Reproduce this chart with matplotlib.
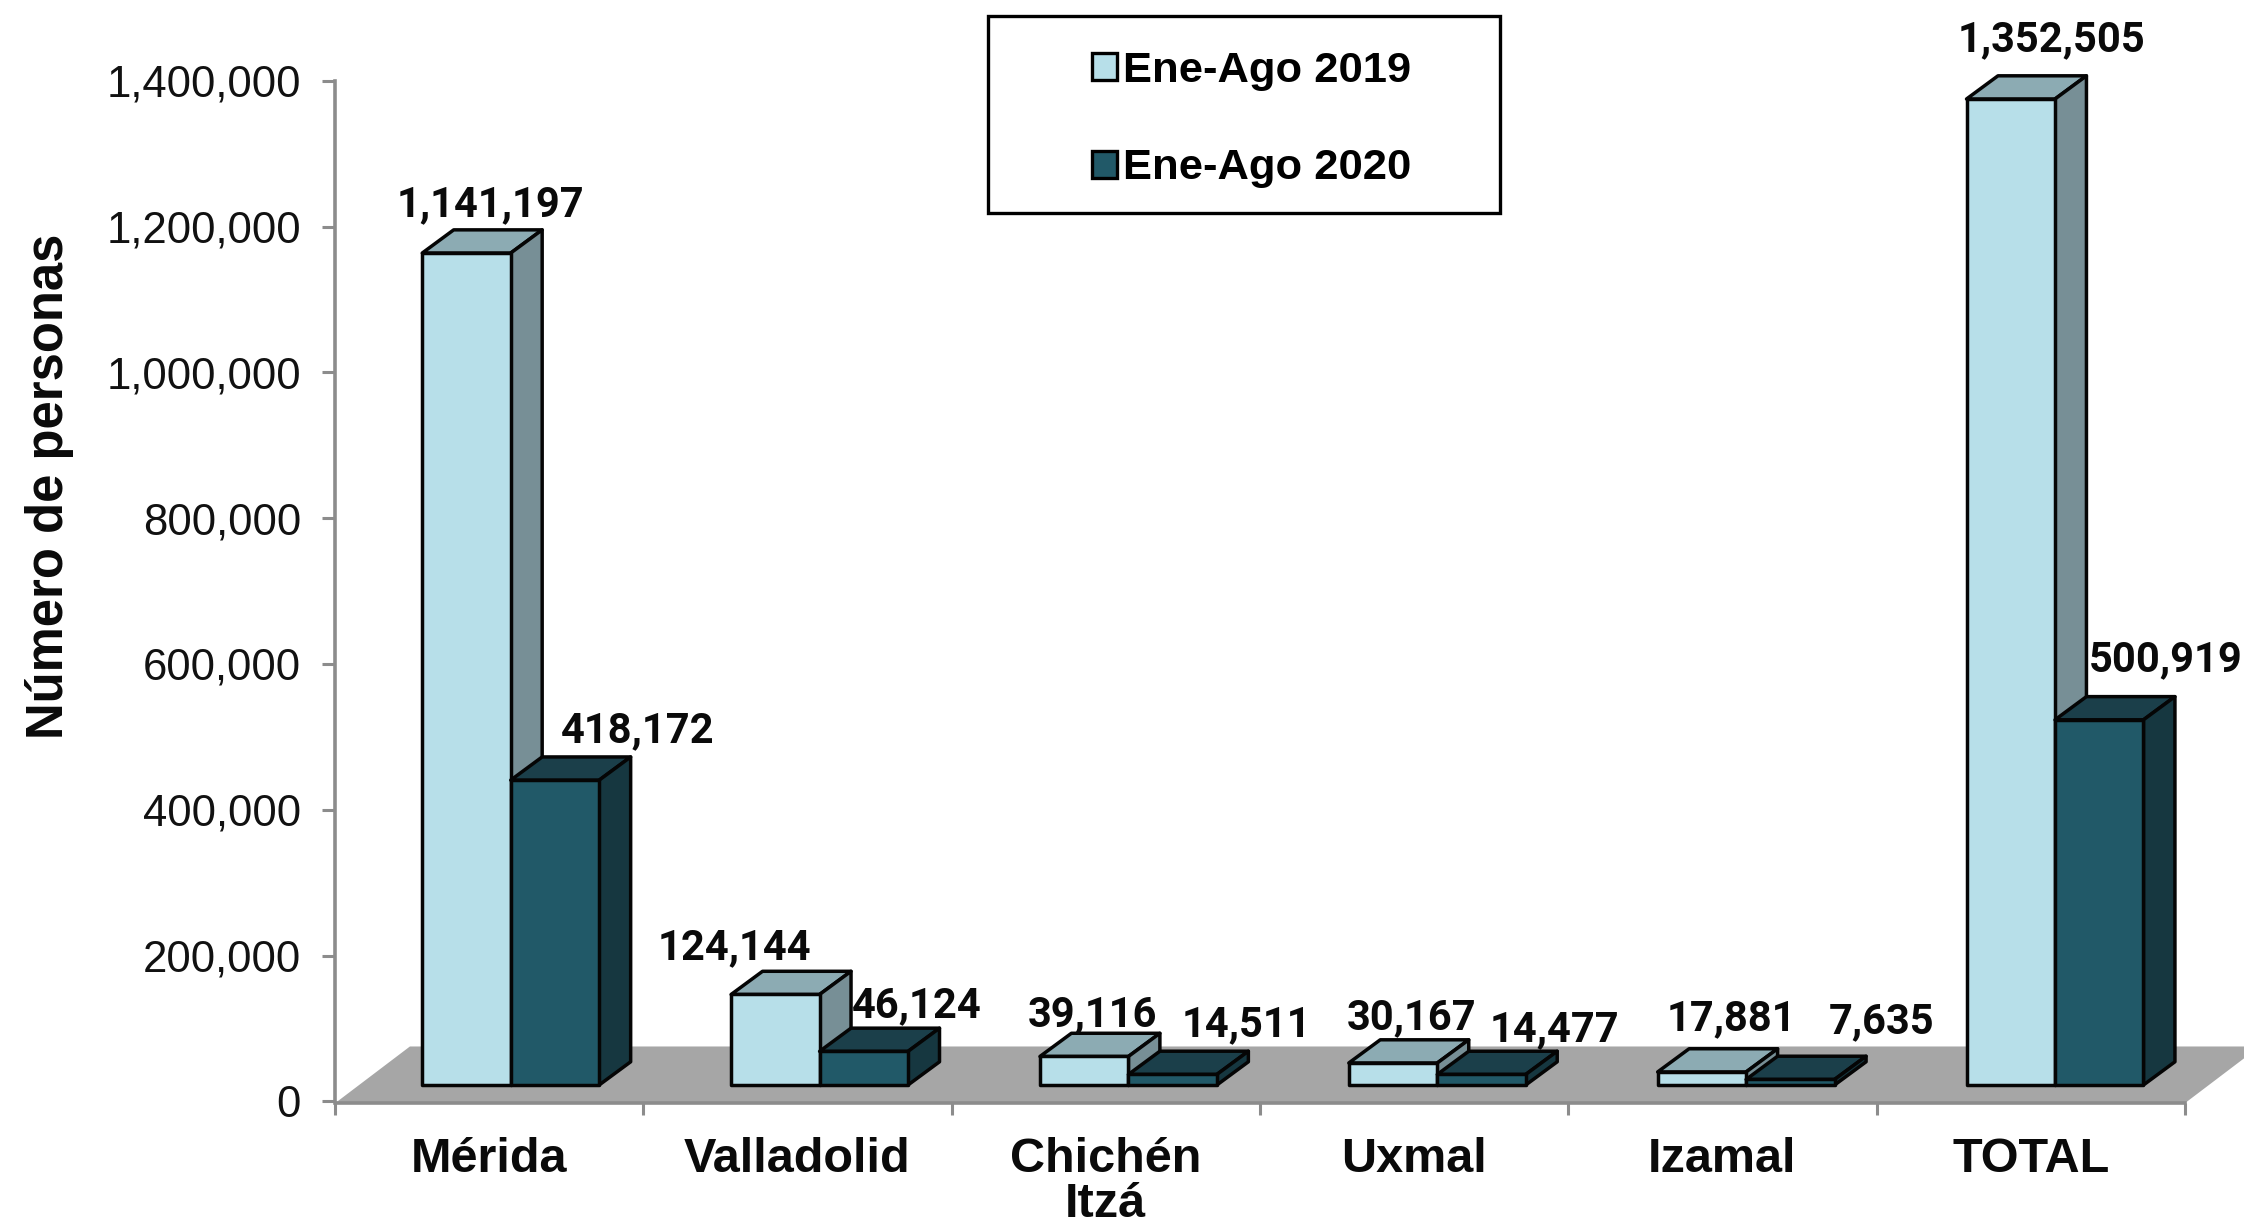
import matplotlib
matplotlib.use("Agg")
import matplotlib.pyplot as plt
from matplotlib.patches import Polygon, Patch, Rectangle
from matplotlib.ticker import FuncFormatter, FixedLocator

categories = ["Mérida", "Valladolid", "Chichén\nItzá", "Uxmal", "Izamal", "TOTAL"]
values_2019 = [1141197, 124144, 39116, 30167, 17881, 1352505]
values_2020 = [418172, 46124, 14511, 14477, 7635, 500919]
series_names = ["Ene-Ago 2019", "Ene-Ago 2020"]
y_ticks = [0, 200000, 400000, 600000, 800000, 1000000, 1200000, 1400000]

# label offsets from the top-centre of each bar front, in pixels
offsets_2019 = [(24, 48), (-41, 47), (8, 42), (19, 45), (30, 53), (41, 59)]
offsets_2020 = [(83, 49), (53, 46), (74, 50), (73, 45), (91, 58), (66, 60)]

W, H = 2244, 1227
fig = plt.figure(figsize=(W / 100, H / 100), dpi=100, facecolor="white")
x0, x1, y_top, y_bot = 335, 335 + 308.3 * 6, 80.7, 1101.3
ax = fig.add_axes([x0 / W, 1 - y_bot / H, (x1 - x0) / W, (y_bot - y_top) / H])
ax.set_xlim(0, 6)
ax.set_ylim(0, 1400000)
ax.patch.set_visible(False)

GREY = "#8C8C8C"
SANS = "Liberation Sans"
BAR_W = 0.287
SHIFT = 0.07
SPREAD = 0.0018
DX, DY = 0.102, 31800
BASE = 22400
EDGE = dict(edgecolor="#050505", linewidth=2.5, joinstyle="round", clip_on=False)
STYLE = [
    dict(front="#B7DFE9", top="#8CABB3", side="#778F96"),
    dict(front="#215968", top="#1B3F4A", side="#163740"),
]

# floor
F0, FX, FY = -2700, 0.243, 75200
ax.add_patch(Polygon([(0, F0), (6, F0), (6 + FX, FY), (FX, FY)], closed=True,
                     facecolor="#A6A6A6", edgecolor="none", clip_on=False, zorder=1))


def bar3d(left, value, st, z):
    xl, xr = left, left + BAR_W
    yb, yt = BASE, BASE + value
    ax.add_patch(Polygon([(xl, yt), (xr, yt), (xr + DX, yt + DY), (xl + DX, yt + DY)],
                         closed=True, facecolor=st["top"], zorder=z, **EDGE))
    ax.add_patch(Polygon([(xr, yb), (xr + DX, yb + DY), (xr + DX, yt + DY), (xr, yt)],
                         closed=True, facecolor=st["side"], zorder=z, **EDGE))
    ax.add_patch(Polygon([(xl, yb), (xr, yb), (xr, yt), (xl, yt)],
                         closed=True, facecolor=st["front"], zorder=z, **EDGE))


for i in range(len(categories)):
    mid = i + 0.5 + SHIFT + i * SPREAD
    for j, (vals, offs) in enumerate(((values_2019, offsets_2019), (values_2020, offsets_2020))):
        left = mid - BAR_W + j * BAR_W
        bar3d(left, vals[i], STYLE[j], 3 + j * 0.1 + i)
        ax.annotate(f"{vals[i]:,}", xy=(left + BAR_W / 2, BASE + vals[i]),
                    xytext=offs[i], textcoords="offset pixels", ha="center", va="center",
                    fontfamily="Roboto", fontweight="bold", fontsize=30, color="#0A0A0A",
                    annotation_clip=False, zorder=20)

# axes
for s in ("top", "right"):
    ax.spines[s].set_visible(False)
for s in ("left", "bottom"):
    ax.spines[s].set_color(GREY)
    ax.spines[s].set_linewidth(2.6)
    ax.spines[s].set_zorder(2)
ax.spines["bottom"].set_position(("outward", 1.5))

ax.yaxis.set_major_locator(FixedLocator(y_ticks))
ax.yaxis.set_major_formatter(FuncFormatter(lambda v, _: f"{int(v):,}"))
ax.tick_params(axis="y", length=9.5, width=2.2, color=GREY, pad=15,
               labelsize=31.5, labelcolor="#111111")
for t in ax.get_yticklabels():
    t.set_fontfamily(SANS)

ax.xaxis.set_major_locator(FixedLocator(list(range(7))))
ax.xaxis.set_major_formatter(FuncFormatter(lambda v, _: ""))
ax.set_xticks([i + 0.5 for i in range(6)], categories, minor=True)
ax.tick_params(axis="x", which="major", length=8.5, width=2.2, color=GREY)
ax.tick_params(axis="x", which="minor", length=0, pad=24, labelsize=35, labelcolor="#0A0A0A")
for t in ax.get_xticklabels(minor=True):
    t.set_fontfamily(SANS)
    t.set_fontweight("bold")
    t.set_linespacing(1.0)

fig.text(50 / W, 1 - 486 / H, "Número de personas", rotation=90, ha="center", va="center",
         fontfamily=SANS, fontweight="bold", fontsize=36.5, color="#0A0A0A")

# legend
fig.add_artist(Rectangle((988 / W, 1 - 213 / H), 512 / W, 197 / H, transform=fig.transFigure,
                         facecolor="white", edgecolor="black", linewidth=2.4, zorder=5))
handles = [Patch(facecolor=STYLE[k]["front"], edgecolor="black", linewidth=2.4) for k in range(2)]
leg = fig.legend(handles, series_names, loc="upper left", bbox_to_anchor=(1092 / W, 1 - 51 / H),
                 frameon=False, prop=dict(family=SANS, weight="bold", size=31.3),
                 handlelength=0.58, handleheight=0.58, handletextpad=0.14, labelspacing=1.32,
                 borderpad=0, borderaxespad=0)
leg.set_zorder(6)

fig.savefig("out.png", dpi=100)
